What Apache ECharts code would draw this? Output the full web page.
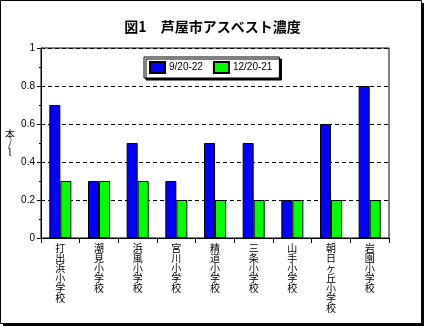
<!DOCTYPE html>
<html><head><meta charset="utf-8">
<script src="https://cdn.jsdelivr.net/npm/echarts@6/dist/echarts.min.js"></script>
<style>html,body{margin:0;padding:0;background:#fff}#c{width:425px;height:327px}</style>
</head><body><div id="c"></div>
<script>
const categories = ['打出浜小学校','潮見小学校','浜風小学校','宮川小学校','精道小学校','三条小学校','山手小学校','朝日ヶ丘小学校','岩園小学校'];
const series1Name = '9/20-22';
const series2Name = '12/20-21';
const series1 = [0.7, 0.3, 0.5, 0.3, 0.5, 0.5, 0.2, 0.6, 0.8];
const series2 = [0.3, 0.3, 0.3, 0.2, 0.2, 0.2, 0.2, 0.2, 0.2];
const titleText = '図1　芦屋市アスベスト濃度';
const yName = '本\n/\nl';

const chart = echarts.init(document.getElementById('c'), null, {renderer:'canvas'});
const cjk = '"Noto Sans CJK JP", sans-serif';
const lat = '"Liberation Sans", sans-serif';
chart.setOption({
  animation: false,
  backgroundColor: '#fff',
  graphic: [
    {type:'rect', z:-10, silent:true, shape:{x:3,y:3,width:421,height:323}, style:{fill:'#000'}},
    {type:'rect', z:-9, silent:true, shape:{x:0.5,y:0.5,width:421,height:323}, style:{fill:'#fff', stroke:'#000', lineWidth:1}}
  ],
  title: {
    text: titleText, left: 'center', top: 15,
    textStyle: {fontFamily: cjk, fontSize: 14, fontWeight: 'bold', color:'#000'}
  },
  legend: {
    top: 57, left: 144,
    icon: 'rect',
    itemWidth: 15, itemHeight: 11, itemGap: 10,
    padding: [4, 7, 4, 5],
    borderColor: '#000', borderWidth: 1, backgroundColor: '#fff',
    shadowColor: '#000', shadowBlur: 0, shadowOffsetX: 2, shadowOffsetY: 2,
    textStyle: {fontFamily: lat, fontSize: 10, color:'#000', padding:[0,0,0,-1]},
    data: [series1Name, series2Name]
  },
  grid: {left: 41, right: 36, top: 48, bottom: 89, show: true, borderColor:'#000', borderWidth:1},
  xAxis: {
    type: 'category', data: categories, boundaryGap: true,
    axisLine: {lineStyle:{color:'#000', width:1}},
    axisTick: {show:true, alignWithLabel:false, length:5, lineStyle:{color:'#000'}},
    axisLabel: {
      interval: 0, margin: 5, color:'#000', fontFamily: cjk, fontSize: 10, lineHeight: 10,
      formatter: v => v.split('').join('\n')
    }
  },
  yAxis: {
    type: 'value', min: 0, max: 1, interval: 0.2,
    name: yName, nameLocation: 'middle', nameRotate: 0, nameGap: 31, nameMoveOverlap: false,
    nameTextStyle: {fontFamily: cjk, fontSize: 10, lineHeight: 9, color:'#000', align:'center'},
    axisLine: {show:true, lineStyle:{color:'#000', width:1}},
    axisTick: {show:true, length:4, lineStyle:{color:'#000'}},
    minorTick: {show:true, splitNumber:2, length:2, lineStyle:{color:'#000'}},
    axisLabel: {margin: 6, color:'#000', fontFamily: lat, fontSize: 10,
      formatter: v => (v === 0 || v === 1) ? String(v) : v.toFixed(1)},
    splitLine: {show:true, lineStyle:{color:'#000', type:[4,3], width:1}}
  },
  series: [
    {name: series1Name, type:'bar', data: series1, barWidth: 11, barGap: '0%',
     itemStyle:{color:'#0000ff', borderColor:'#000', borderWidth:1}},
    {name: series2Name, type:'bar', data: series2, barWidth: 11, barGap: '0%',
     itemStyle:{color:'#00ff00', borderColor:'#000', borderWidth:1}}
  ]
});
</script></body></html>
